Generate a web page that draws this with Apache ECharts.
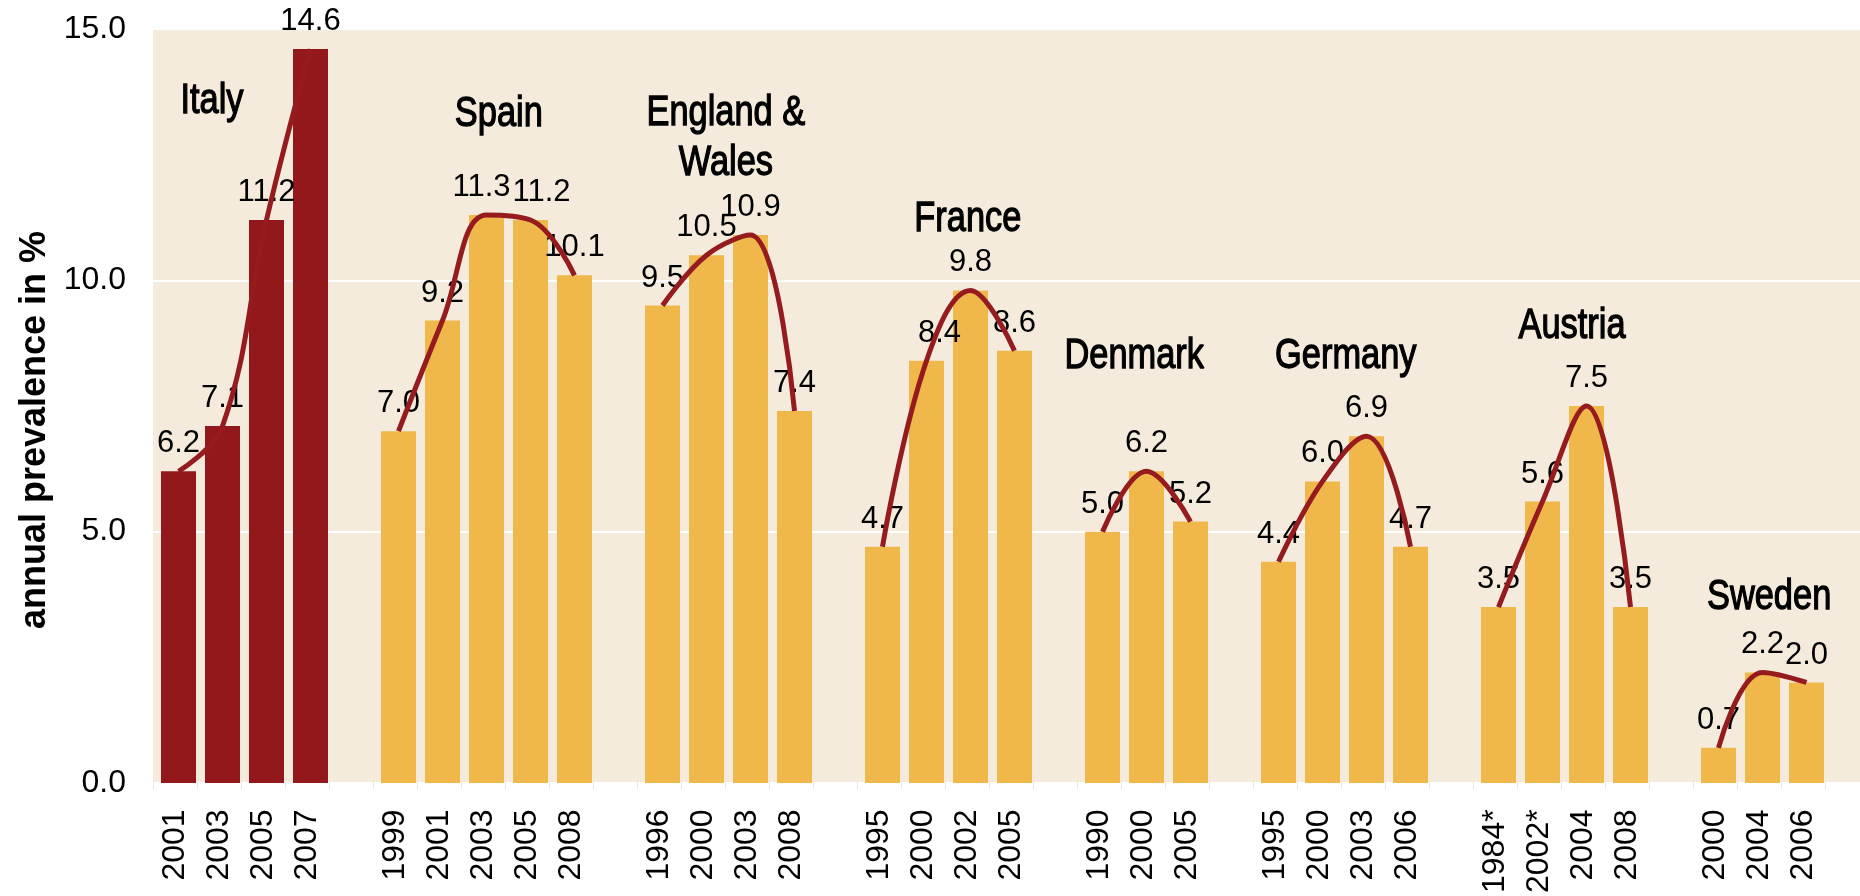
<!DOCTYPE html>
<html>
<head>
<meta charset="utf-8">
<title>Annual prevalence</title>
<script src="https://cdn.jsdelivr.net/npm/echarts@6/dist/echarts.min.js"></script>
<style>
  html, body { margin: 0; padding: 0; background: #fff; }
  #chart { width: 1860px; height: 896px; }
</style>
</head>
<body>
<div id="chart"></div>
<script>
// countries, survey years and annual prevalence (%)
const countryNames = ['Italy', 'Spain', 'England &\nWales', 'France', 'Denmark', 'Germany', 'Austria', 'Sweden']
const countryYears = [
  ['2001', '2003', '2005', '2007'],
  ['1999', '2001', '2003', '2005', '2008'],
  ['1996', '2000', '2003', '2008'],
  ['1995', '2000', '2002', '2005'],
  ['1990', '2000', '2005'],
  ['1995', '2000', '2003', '2006'],
  ['1984*', '2002*', '2004', '2008'],
  ['2000', '2004', '2006']
]
const countryValues = [
  [6.2, 7.1, 11.2, 14.6],
  [7.0, 9.2, 11.3, 11.2, 10.1],
  [9.5, 10.5, 10.9, 7.4],
  [4.7, 8.4, 9.8, 8.6],
  [5.0, 6.2, 5.2],
  [4.4, 6.0, 6.9, 4.7],
  [3.5, 5.6, 7.5, 3.5],
  [0.7, 2.2, 2.0]
]
// where each country name sits: bar offset inside its group, height in %
const nameAnchorBar = [0.76, 2.28, 1.44, 1.94, 0.72, 1.53, 1.67, 1.15]
const nameAnchorValue = [13.57, 13.31, 12.83, 11.22, 8.49, 8.49, 9.09, 3.69]
const yTicks = [0, 5, 10, 15]

const RED = '#93181C'
const GOLD = '#F0B84A'
const BG = '#F4EBDC'
const FONT = '"Liberation Sans", Arial, sans-serif'

// a few value labels are pushed sideways in the original
const labelNudge = { '1|2': -5, '1|3': 11, '3|1': 13 }

const categories = []
const barData = []
const lineData = []
const nameAnchors = []
countryNames.forEach((name, i) => {
  if (i > 0) {
    categories.push('')
    barData.push(null)
    lineData.push(null)
  }
  const start = categories.length
  countryYears[i].forEach((y, j) => {
    categories.push(y)
    const item = {
      value: countryValues[i][j],
      itemStyle: { color: i === 0 ? RED : GOLD }
    }
    const dx = labelNudge[i + '|' + j]
    if (dx) item.label = { offset: [dx, 0] }
    barData.push(item)
    lineData.push(countryValues[i][j])
  })
  nameAnchors.push([start + nameAnchorBar[i], nameAnchorValue[i]])
})
const n = categories.length

const chart = echarts.init(document.getElementById('chart'))
const option = {
  backgroundColor: '#fff',
  animation: false,
  textStyle: { fontFamily: FONT },
  grid: [
    { left: 153, right: 0, top: 29, bottom: 113, show: true, backgroundColor: BG, borderWidth: 0 },
    { left: 153, right: 35, top: 29, bottom: 113 },
    { left: 156.5, right: 31.5, top: 29, bottom: 113 }
  ],
  xAxis: [
    { type: 'value', gridIndex: 0, show: false, min: 0, max: 1 },
    {
      type: 'category',
      gridIndex: 1,
      data: categories,
      axisLine: { show: false },
      axisTick: { show: true, length: 10, lineStyle: { color: '#F1E5D3', width: 1 } },
      axisLabel: { interval: 0, rotate: 90, fontSize: 32, color: '#000', margin: 30, fontFamily: FONT }
    },
    { type: 'category', gridIndex: 2, data: categories, show: false },
    { type: 'value', gridIndex: 2, show: false, min: -0.5, max: n - 0.5 }
  ],
  yAxis: [
    {
      type: 'value',
      gridIndex: 0,
      min: yTicks[0],
      max: yTicks[yTicks.length - 1],
      interval: 5,
      name: 'annual prevalence in %',
      nameLocation: 'middle',
      nameGap: 96,
      nameTextStyle: { fontSize: 36, fontWeight: 'bold', color: '#000', fontFamily: FONT, padding: [0, 48, 0, 0] },
      axisLine: { show: false },
      axisTick: { show: false },
      axisLabel: { fontSize: 32, color: '#000', margin: 27, formatter: v => v.toFixed(1), fontFamily: FONT },
      splitLine: { show: true, lineStyle: { color: '#fff', width: 2 } }
    },
    { type: 'value', gridIndex: 1, min: 0, max: 15, show: false },
    { type: 'value', gridIndex: 2, min: 0, max: 15, show: false }
  ],
  series: [
    {
      type: 'bar',
      xAxisIndex: 2,
      yAxisIndex: 2,
      barWidth: 35,
      data: barData,
      label: {
        show: true,
        position: 'top',
        distance: 12,
        fontSize: 31,
        color: '#000',
        fontFamily: FONT,
        formatter: p => p.value.toFixed(1)
      }
    },
    {
      type: 'line',
      xAxisIndex: 2,
      yAxisIndex: 2,
      data: lineData,
      smooth: 0.4,
      connectNulls: false,
      symbol: 'none',
      lineStyle: { color: '#951B1E', width: 5 },
      z: 3
    }
  ]
}
chart.setOption(option)

// country names: narrow type, placed from data coordinates
const nameGraphics = countryNames.map((name, i) => {
  const pt = chart.convertToPixel({ xAxisIndex: 3, yAxisIndex: 2 }, nameAnchors[i])
  return {
    type: 'text',
    x: pt[0],
    y: pt[1],
    scaleX: 0.8,
    z: 100,
    style: {
      text: name,
      font: '43px "Liberation Sans", Arial, sans-serif',
      fill: '#000',
      stroke: '#000',
      lineWidth: 1.3,
      align: 'center',
      verticalAlign: 'middle',
      textAlign: 'center',
      textVerticalAlign: 'middle',
      lineHeight: 50
    }
  }
})
chart.setOption({ graphic: nameGraphics })
</script>
</body>
</html>
